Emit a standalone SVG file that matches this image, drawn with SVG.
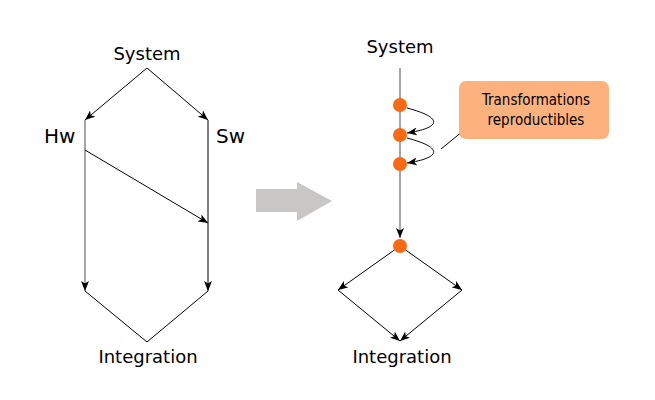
<svg xmlns="http://www.w3.org/2000/svg" width="655" height="400" viewBox="0 0 655 400">
<style>
text{font-family:"DejaVu Sans",sans-serif;fill:#000}
.lbl{font-size:18px;text-anchor:middle}
.big{font-size:20px}
.c{font-family:"DejaVu Sans Condensed","DejaVu Sans",sans-serif;font-stretch:condensed;font-size:15px;text-anchor:middle}
.l{fill:none;stroke:#000;stroke-width:1}
.g{fill:none;stroke:#888;stroke-width:1.5}
.dot{fill:#fa6a14}
</style>
<defs>
<marker id="a" viewBox="0 0 10 8" refX="10" refY="4" markerWidth="10" markerHeight="8" markerUnits="userSpaceOnUse" orient="auto">
<path d="M0,0 L10,4 L0,8 L2.5,4 Z" fill="#000"/>
</marker>
</defs>
<rect width="655" height="400" fill="#fff"/>
<g id="connectors">
<path class="l" d="M147,68 L85,120" marker-end="url(#a)"/>
<path class="l" d="M147,68 L208,120" marker-end="url(#a)"/>
<path class="g" d="M85,120 L85,291" marker-end="url(#a)"/>
<path class="l" d="M208,120 L208,291" marker-end="url(#a)"/>
<path class="l" d="M85,150 L208,223" marker-end="url(#a)"/>
<path class="l" d="M85,291 L147,342 L208,291"/>
<path class="g" d="M400,68 L400,238" marker-end="url(#a)"/>
<path class="l" d="M407,108 C445,118 440,128 407,133" marker-end="url(#a)"/>
<path class="l" d="M407,138 C445,148 440,158 407,163" marker-end="url(#a)"/>
<path class="l" d="M468,127 L441,149"/>
<path class="l" d="M400,246 L338,290" marker-end="url(#a)"/>
<path class="l" d="M400,246 L462,290" marker-end="url(#a)"/>
<path class="l" d="M338,290 L400,341" marker-end="url(#a)"/>
<path class="l" d="M462,290 L400,341" marker-end="url(#a)"/>
</g>
<g id="bigarrow"><path d="M256,189 L297,189 L297,182 L332,201 L297,221 L297,212 L256,212 Z" fill="#c9c6c6"/></g>
<g id="sys1"><text class="lbl" x="147" y="60">System</text></g>
<g id="hw"><text class="big" x="44" y="143">Hw</text></g>
<g id="sw"><text class="big" x="216" y="143">Sw</text></g>
<g id="int1"><text class="lbl" x="148" y="363">Integration</text></g>
<g id="sys2"><text class="lbl" x="400" y="53">System</text></g>
<g id="dots">
<circle class="dot" cx="400" cy="105" r="7"/>
<circle class="dot" cx="400" cy="135" r="7"/>
<circle class="dot" cx="400" cy="164" r="7"/>
<circle class="dot" cx="400" cy="246" r="7"/>
</g>
<g id="callout">
<rect x="459" y="81" width="150" height="58" rx="7" fill="#fdb27e"/>
<text class="c" x="536" y="105">Transformations</text>
<text class="c" x="536" y="125">reproductibles</text>
</g>
<g id="int2"><text class="lbl" x="402" y="363">Integration</text></g>
</svg>
